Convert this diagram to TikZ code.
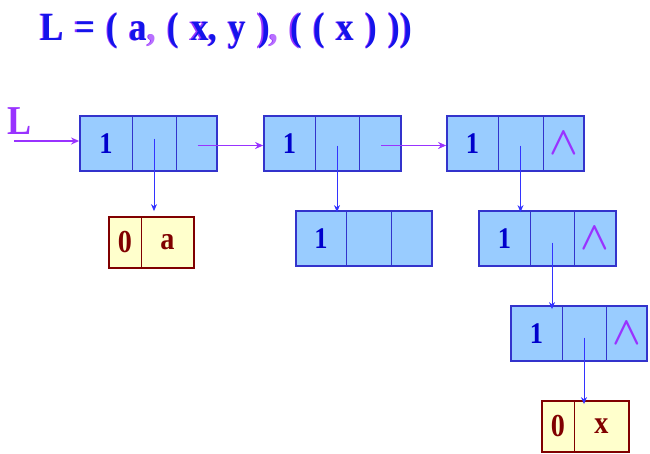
\documentclass[tikz,border=0pt]{standalone}
\usepackage{fontspec}
\setmainfont{Liberation Serif}[FakeStretch=0.88]
\usepackage{graphicx}
\usetikzlibrary{arrows.meta,fit}
\definecolor{boxfill}{RGB}{153,204,255}
\definecolor{boxline}{RGB}{51,51,204}
\definecolor{onetext}{RGB}{0,0,204}
\definecolor{atomfill}{RGB}{255,255,204}
\definecolor{atomline}{RGB}{128,0,0}
\definecolor{purp}{RGB}{153,51,255}
\definecolor{linkblue}{RGB}{51,51,255}
\definecolor{titleblue}{RGB}{20,20,235}
\newcommand\titlefnt{\fontsize{40}{40}\bfseries\selectfont\spaceskip=11.5pt\relax}
\tikzset{
  fld/.style={fill=boxfill, minimum height=55pt, inner sep=0pt, outer sep=0pt,
     font=\fontsize{30}{30}\bfseries\selectfont, text=onetext},
  afld/.style={fill=atomfill, minimum height=51pt, inner sep=0pt, outer sep=0pt,
     font=\fontsize{32}{32}\bfseries\selectfont, text=atomline},
  frame/.style={draw=boxline, line width=1.8pt, inner sep=0pt},
  aframe/.style={draw=atomline, line width=1.8pt, inner sep=0pt},
  divl/.style={draw=boxline, line width=0.8pt},
  adivl/.style={draw=atomline, line width=0.8pt},
  nextarr/.style={draw=purp, line width=1.8pt, -{Stealth[length=8pt,width=7pt]}},
  downarr/.style={draw=linkblue, line width=1pt, -{Stealth[length=7pt,width=6pt]}},
  titlefont/.style={font=\titlefnt},
}
\newcommand\nilsym{\raisebox{-1pt}{\textcolor{purp}{\scalebox{1.5}[1.6]{\boldmath$\wedge$}}}}
\newcommand\glnode[8]{%
  \node[fld, minimum width=#4pt, anchor=north west] (#1a) at (#2,#3) {#7};
  \node[fld, minimum width=#5pt, anchor=north west] (#1b) at (#1a.north east) {};
  \node[fld, minimum width=#6pt, anchor=north west] (#1c) at (#1b.north east) {#8};
  \draw[divl] (#1a.north east) -- (#1a.south east);
  \draw[divl] (#1b.north east) -- (#1b.south east);
  \node[frame, fit=(#1a)(#1c)] (#1) {};
}
\newcommand\atomnode[6]{%
  \node[afld, minimum width=#4pt, anchor=north west] (#1a) at (#2,#3) {0};
  \node[afld, minimum width=#5pt, anchor=north west] (#1b) at (#1a.north east) {#6};
  \draw[adivl] (#1a.north east) -- (#1a.south east);
  \node[aframe, fit=(#1a)(#1b)] (#1) {};
}
\begin{document}
\begin{tikzpicture}[x=1pt,y=-1pt]
\useasboundingbox (0,0) rectangle (650,453);
% title
\node[anchor=base west, inner sep=0pt, text=purp, titlefont]
  (titleshadow) at (38.8,40.6) {L = ( a, ( x, y ), ( ( x ) ))};
\node[anchor=base west, inner sep=0pt, text=titleblue, titlefont]
  (title) at (40,40) {L = ( a\textcolor{purp!70}{,} ( x, y )\textcolor{purp!70}{,} ( ( x ) ))};
% list nodes
\glnode{A}{80}{116}{52}{44}{41}{1}{}
\glnode{B}{264}{116}{51}{44}{42}{1}{}
\glnode{C}{447}{116}{51}{45}{41}{1}{\nilsym}
\glnode{D}{296}{211}{50}{45}{41}{1}{}
\glnode{E}{479}{211}{51}{44}{42}{1}{\nilsym}
\glnode{F}{511}{306}{51}{44}{41}{1}{\nilsym}
\atomnode{P}{109}{217}{32}{53}{a}
\atomnode{Q}{542}{401}{32}{55}{x}
% head pointer
\node[text=purp, font=\fontsize{41}{41}\bfseries\selectfont, inner sep=0pt] (Llabel) at (20,121) {L};
\coordinate (Lstart) at (14,141);
\draw[nextarr] (Lstart) -- (Lstart -| A.west);
% tail links
\draw[nextarr] ([xshift=1pt,yshift=-2pt]Ac.center) -- ([yshift=-2pt]B.west);
\draw[nextarr] ([xshift=1pt,yshift=-2pt]Bc.center) -- ([yshift=-2pt]C.west);
% head links
\draw[downarr] ([yshift=5pt]Ab.center) -- ([yshift=5pt]Ab.center |- P.north);
\draw[downarr] ([yshift=-2pt]Bb.center) -- ([yshift=-2pt]Bb.center |- D.north);
\draw[downarr] ([yshift=-2pt]Cb.center) -- ([yshift=-2pt]Cb.center |- E.north);
\draw[downarr] ([yshift=-4pt]Eb.center) -- ([yshift=-4pt]Eb.center |- F.north);
\draw[downarr] ([yshift=-4pt]Fb.center) -- ([yshift=-4pt]Fb.center |- Q.north);
\end{tikzpicture}
\end{document}
